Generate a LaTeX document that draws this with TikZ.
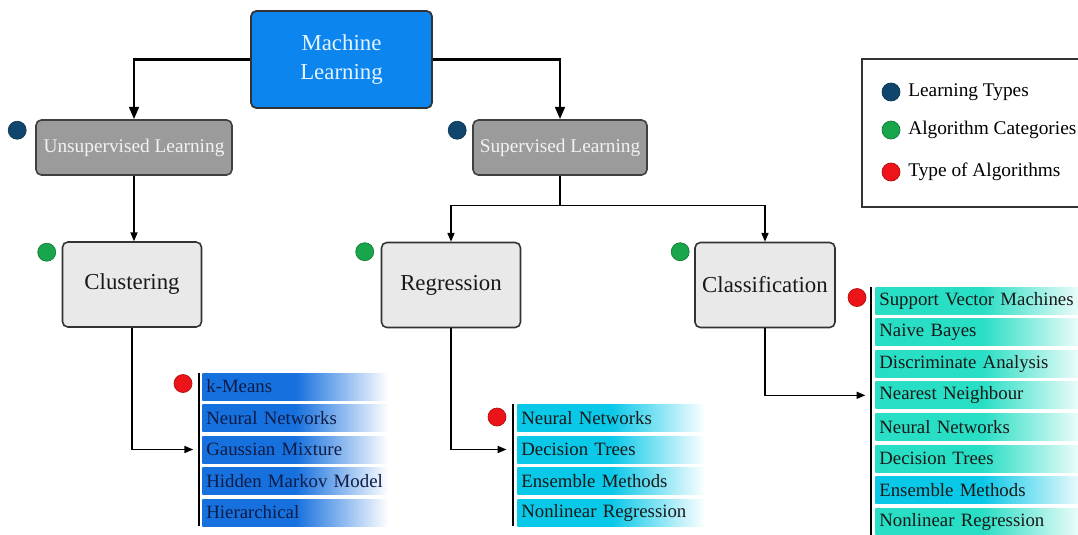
\documentclass[tikz,border=0pt]{standalone}
\usepackage{fontspec}
\setmainfont{Liberation Serif}
\usetikzlibrary{arrows.meta, positioning, calc}

\definecolor{mlblue}{RGB}{12,134,238}
\definecolor{mltext}{RGB}{228,243,255}
\definecolor{typegray}{RGB}{155,155,155}
\definecolor{catgray}{RGB}{233,233,233}
\definecolor{dotblue}{RGB}{16,70,110}
\definecolor{dotgreen}{RGB}{24,165,76}
\definecolor{dotred}{RGB}{236,20,24}
\definecolor{clusblue}{RGB}{22,112,222}
\definecolor{regcyan}{RGB}{10,200,232}
\definecolor{clateal}{RGB}{40,222,196}
\definecolor{navytext}{RGB}{14,28,70}

\begin{document}
\begin{tikzpicture}[x=0.02cm, y=-0.02cm,
    every node/.style={font=\fontsize{11}{13}\selectfont},
    mlbox/.style={rectangle, draw=black!80, line width=1pt, rounded corners=3pt,
                  fill=mlblue, text=mltext, align=center,
                  minimum width=3.62cm, minimum height=1.94cm,
                  font=\fontsize{13}{17}\selectfont},
    typebox/.style={rectangle, draw=black!75, line width=0.9pt, rounded corners=3pt,
                    fill=typegray, text=white!95!black, minimum height=1.1cm},
    catbox/.style={rectangle, draw=black!80, line width=0.9pt, rounded corners=3pt,
                   fill=catgray, text=black!90, minimum width=2.78cm, minimum height=1.7cm,
                   font=\fontsize{13}{16}\selectfont},
    algrow/.style={rectangle, anchor=west, minimum height=0.54cm, inner xsep=0.08cm,
                   inner ysep=0pt, align=left, font=\fontsize{10.7}{13}\selectfont},
    clusrow/.style={algrow, text width=3.56cm, text=navytext,
                    left color=clusblue, right color=white, middle color=clusblue},
    regrow/.style={algrow, text width=3.6cm, text=black!90,
                   left color=regcyan, right color=white, middle color=regcyan},
    clarow/.style={algrow, text width=4.1cm, text=black!90,
                   left color=#1, right color=white, middle color=#1},
    dot/.style={circle, inner sep=0pt, minimum size=0.36cm, fill=#1, draw=#1!75!black},
    legbox/.style={rectangle, draw=black!80, line width=0.9pt, fill=white,
                   minimum width=4.76cm, minimum height=2.96cm},
    bar/.style={line width=1.1pt},
    bigarr/.style={-{Triangle[length=7pt, width=5.5pt]}, line width=1.5pt},
    arr/.style={-{Triangle[length=5pt, width=4pt]}, line width=0.8pt}
]
\useasboundingbox (0,0) rectangle (1078,534);
\clip (0,0) rectangle (1078,534);

% main boxes
\node[mlbox] (ml) at (341.5,59.5) {Machine\\Learning};
\node[typebox, minimum width=3.92cm] (unsup) at (134,147.5) {Unsupervised Learning};
\node[typebox, minimum width=3.48cm] (sup)   at (560,147.5) {Supervised Learning};

\node[catbox] (clus) at (132,284.5) {Clustering};
\node[catbox] (regr) at (451,285)   {Regression};
\node[catbox, minimum width=2.8cm] (clas) at (765,285) {Classification};

% markers
\node[dot=dotblue]  (dunsup) at ($(unsup.north west)+(-18,11)$) {};
\node[dot=dotblue]  (dsup)   at ($(sup.north west)+(-15,11)$)   {};
\node[dot=dotgreen] (dclus)  at ($(clus.north west)+(-15,11)$)  {};
\node[dot=dotgreen] (dregr)  at ($(regr.north west)+(-16,10)$)  {};
\node[dot=dotgreen] (dclas)  at ($(clas.north west)+(-14,10)$)  {};

% algorithm lists
\foreach \txt [count=\i] in {k-Means, Neural Networks, Gaussian Mixture,
                             Hidden Markov Model, Hierarchical}
    \node[clusrow] (cl\i) at (202,355+31.5*\i) {\txt};
\foreach \txt [count=\i] in {Neural Networks, Decision Trees, Ensemble Methods,
                             Nonlinear Regression}
    \node[regrow] (rg\i) at (517,386.5+31.5*\i) {\txt};
\foreach \txt/\col [count=\i] in {Support Vector Machines/clateal, Naive Bayes/clateal,
        Discriminate Analysis/clateal, Nearest Neighbour/clateal, Neural Networks/clateal,
        Decision Trees/clateal, Ensemble Methods/regcyan, Nonlinear Regression/clateal}
    \node[clarow=\col] (cf\i) at (875,268.9+31.6*\i) {\txt};

\draw[bar] ([xshift=-0.06cm]cl1.north west) -- ([xshift=-0.06cm]cl5.south west);
\draw[bar] ([xshift=-0.08cm]rg1.north west) -- ([xshift=-0.08cm]rg4.south west);
\draw[bar] ([xshift=-0.08cm]cf1.north west) -- ([xshift=-0.08cm,yshift=-0.3cm]cf8.south west);

\node[dot=dotred] (dcl) at ($(cl1.west)+(-19,-3)$) {};
\node[dot=dotred] (drg) at ($(rg1.west)+(-20,-1)$) {};
\node[dot=dotred] (dcf) at ($(cf1.west)+(-18,-3)$) {};

% connectors
\draw[bigarr] (ml.west) -| (unsup.north);
\draw[bigarr] (ml.east) -| (sup.north);
\draw[arr] (unsup.south) -- (unsup.south |- clus.north);
\coordinate (split) at ($(sup.south)+(0,30)$);
\draw[line width=0.8pt] (sup.south) -- (split);
\draw[arr] (split) -| (regr.north);
\draw[arr] (split) -| (clas.north);
\draw[arr, shorten >=5pt] (clus.south) |- (cl3.west);
\draw[arr, shorten >=6pt] (regr.south) |- (rg2.west);
\draw[arr, shorten >=5.5pt] (clas.south) |- (cf4.west);

% legend
\node[legbox] (legend) at (981,133) {};
\node[dot=dotblue]  (lgd1) at (891,92)  {};
\node[dot=dotgreen] (lgd2) at (891,130) {};
\node[dot=dotred]   (lgd3) at (891,172) {};
\node[right=1pt of lgd1] (lgt1) {Learning Types};
\node[right=1pt of lgd2] (lgt2) {Algorithm Categories};
\node[right=1pt of lgd3] (lgt3) {Type of Algorithms};
\end{tikzpicture}
\end{document}
